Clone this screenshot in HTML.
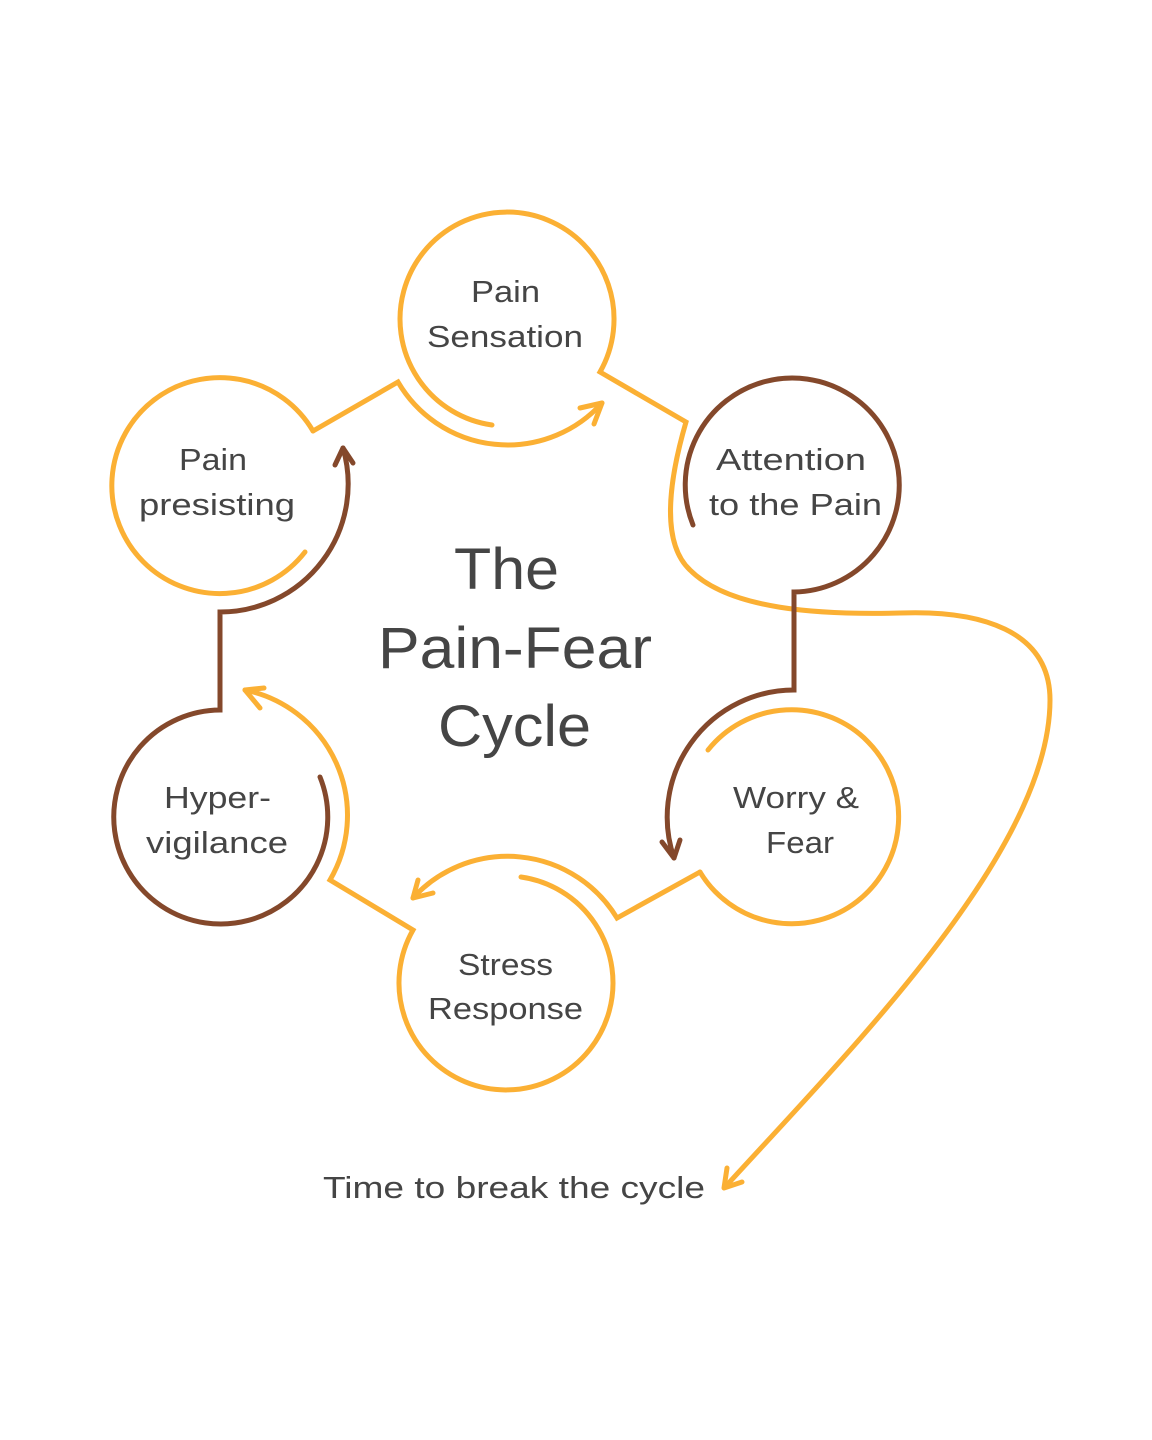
<!DOCTYPE html>
<html><head><meta charset="utf-8"><style>
html,body{margin:0;padding:0;background:#fff}
svg{display:block}
text{font-family:"Liberation Sans",sans-serif;fill:#454545}
</style></head><body>
<svg width="1152" height="1440" viewBox="0 0 1152 1440" xmlns="http://www.w3.org/2000/svg">
<g fill="none" stroke-width="5" stroke-linecap="round" stroke-linejoin="miter">
<g stroke="#FBB034">
<path d="M492,425 A107,107 0 1 1 600,372 L686,422 C672,470 658,540 690,570 C730,610 820,615 900,613 C980,610 1050,630 1050,700 C1050,850 850,1050 726,1186"/>
<path d="M724,1188 L727,1168 M724,1188 L742,1182"/>
<path d="M313,431 L398,382 A127,127 0 0 0 602,403"/>
<path d="M602,403 L580,408 M602,403 L594,424"/>
<path d="M313,431 A108,108 0 1 0 305,552"/>
<path d="M245,690 A128,128 0 0 1 330,880 L413,930 A107,107 0 1 0 521,877"/>
<path d="M245,690 L264,688 M245,690 L260,708"/>
<path d="M700,872 L617,918 A128,128 0 0 0 413,898"/>
<path d="M413,898 L418,880 M413,898 L433,893"/>
<path d="M700,872 A107,107 0 1 0 708,750"/>
</g>
<g stroke="#84482B">
<path d="M343,448 A128,128 0 0 1 220,612 L220,710 A107,107 0 1 0 320,777"/>
<path d="M343,448 L335,465 M343,448 L353,463"/>
<path d="M674,858 A127,127 0 0 1 794,690 L794,592 A107,107 0 1 0 693,525"/>
<path d="M674,858 L662,842 M674,858 L680,840"/>
</g>
</g>
<g font-size="31" lengthAdjust="spacingAndGlyphs">
<text x="471" y="302" textLength="69" lengthAdjust="spacingAndGlyphs">Pain</text>
<text x="427" y="347" textLength="156" lengthAdjust="spacingAndGlyphs">Sensation</text>
<text x="179" y="470" textLength="68" lengthAdjust="spacingAndGlyphs">Pain</text>
<text x="139" y="515" textLength="156" lengthAdjust="spacingAndGlyphs">presisting</text>
<text x="716" y="470" textLength="150" lengthAdjust="spacingAndGlyphs">Attention</text>
<text x="709" y="515" textLength="173" lengthAdjust="spacingAndGlyphs">to the Pain</text>
<text x="733" y="808" textLength="126" lengthAdjust="spacingAndGlyphs">Worry &amp;</text>
<text x="766" y="853" textLength="68" lengthAdjust="spacingAndGlyphs">Fear</text>
<text x="164" y="808" textLength="107" lengthAdjust="spacingAndGlyphs">Hyper-</text>
<text x="146" y="853" textLength="142" lengthAdjust="spacingAndGlyphs">vigilance</text>
<text x="458" y="975" textLength="95" lengthAdjust="spacingAndGlyphs">Stress</text>
<text x="428" y="1019" textLength="155" lengthAdjust="spacingAndGlyphs">Response</text>
<text x="323" y="1198" textLength="382" lengthAdjust="spacingAndGlyphs">Time to break the cycle</text>
</g>
<g font-size="58">
<text x="454" y="589" textLength="105" lengthAdjust="spacingAndGlyphs">The</text>
<text x="378" y="668" textLength="274" lengthAdjust="spacingAndGlyphs">Pain-Fear</text>
<text x="438" y="746" textLength="153" lengthAdjust="spacingAndGlyphs">Cycle</text>
</g>
</svg>
</body></html>
